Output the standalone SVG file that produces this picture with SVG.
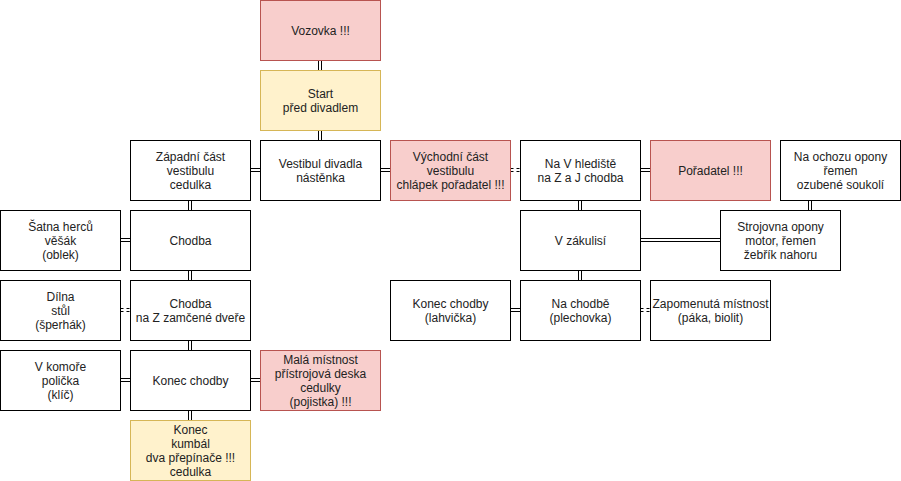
<svg xmlns="http://www.w3.org/2000/svg" width="901" height="481" viewBox="0 0 901 481">
<style>
rect{stroke-width:1}
.w{fill:#ffffff;stroke:#000000}
.r{fill:#f8cecc;stroke:#b85450}
.y{fill:#fff2cc;stroke:#d6b656}
text{font-family:"Liberation Sans",Helvetica,Arial,sans-serif;font-size:12px;fill:#222222;text-anchor:middle}
.c line{stroke:#000000;stroke-width:1;fill:none}
.c .d{stroke-dasharray:3 3}
</style>
<rect x="0" y="0" width="901" height="481" fill="#ffffff"/>
<g transform="translate(0.5,0.5)">
<g id="connectors" class="c">
<line x1="318" y1="60" x2="318" y2="70"/><line x1="321" y1="60" x2="321" y2="70"/>
<line x1="318" y1="130" x2="318" y2="140"/><line x1="321" y1="130" x2="321" y2="140"/>
<line x1="250" y1="168" x2="260" y2="168"/><line x1="250" y1="171" x2="260" y2="171"/>
<line x1="380" y1="168" x2="390" y2="168"/><line x1="380" y1="171" x2="390" y2="171"/>
<line class="d" x1="510" y1="168" x2="520" y2="168"/><line class="d" x1="510" y1="171" x2="520" y2="171"/>
<line x1="640" y1="168" x2="650" y2="168"/><line x1="640" y1="171" x2="650" y2="171"/>
<line x1="578" y1="200" x2="578" y2="210"/><line x1="581" y1="200" x2="581" y2="210"/>
<line x1="640" y1="238" x2="720" y2="238"/><line x1="640" y1="241" x2="720" y2="241"/>
<line x1="808" y1="200" x2="808" y2="210"/><line x1="811" y1="200" x2="811" y2="210"/>
<line x1="578" y1="270" x2="578" y2="280"/><line x1="581" y1="270" x2="581" y2="280"/>
<line x1="510" y1="308" x2="520" y2="308"/><line x1="510" y1="311" x2="520" y2="311"/>
<line class="d" x1="640" y1="308" x2="650" y2="308"/><line class="d" x1="640" y1="311" x2="650" y2="311"/>
<line x1="188" y1="200" x2="188" y2="210"/><line x1="191" y1="200" x2="191" y2="210"/>
<line x1="120" y1="238" x2="130" y2="238"/><line x1="120" y1="241" x2="130" y2="241"/>
<line x1="188" y1="270" x2="188" y2="280"/><line x1="191" y1="270" x2="191" y2="280"/>
<line class="d" x1="120" y1="308" x2="130" y2="308"/><line class="d" x1="120" y1="311" x2="130" y2="311"/>
<line x1="188" y1="340" x2="188" y2="350"/><line x1="191" y1="340" x2="191" y2="350"/>
<line x1="120" y1="378" x2="130" y2="378"/><line x1="120" y1="381" x2="130" y2="381"/>
<line x1="250" y1="378" x2="260" y2="378"/><line x1="250" y1="381" x2="260" y2="381"/>
<line x1="188" y1="410" x2="188" y2="420"/><line x1="191" y1="410" x2="191" y2="420"/>
</g>
<g id="vozovka"><rect class="r" x="260" y="0" width="120" height="60"/><text x="320" y="34">Vozovka !!!</text></g>
<g id="start"><rect class="y" x="260" y="70" width="120" height="60"/><text x="320" y="97">Start</text><text x="320" y="111">před divadlem</text></g>
<g id="zapadni"><rect class="w" x="130" y="140" width="120" height="60"/><text x="190" y="160">Západní část</text><text x="190" y="174">vestibulu</text><text x="190" y="188">cedulka</text></g>
<g id="vestibul"><rect class="w" x="260" y="140" width="120" height="60"/><text x="320" y="167">Vestibul divadla</text><text x="320" y="181">nástěnka</text></g>
<g id="vychodni"><rect class="r" x="390" y="140" width="120" height="60"/><text x="450" y="160">Východní část</text><text x="450" y="174">vestibulu</text><text x="450" y="188">chlápek pořadatel !!!</text></g>
<g id="hlediste"><rect class="w" x="520" y="140" width="120" height="60"/><text x="580" y="167">Na V hlediště</text><text x="580" y="181">na Z a J chodba</text></g>
<g id="poradatel"><rect class="r" x="650" y="140" width="120" height="60"/><text x="710" y="174">Pořadatel !!!</text></g>
<g id="ochoz"><rect class="w" x="780" y="140" width="120" height="60"/><text x="840" y="160">Na ochozu opony</text><text x="840" y="174">řemen</text><text x="840" y="188">ozubené soukolí</text></g>
<g id="satna"><rect class="w" x="0" y="210" width="120" height="60"/><text x="60" y="230">Šatna herců</text><text x="60" y="244">věšák</text><text x="60" y="258">(oblek)</text></g>
<g id="chodba"><rect class="w" x="130" y="210" width="120" height="60"/><text x="190" y="244">Chodba</text></g>
<g id="zakulisi"><rect class="w" x="520" y="210" width="120" height="60"/><text x="580" y="244">V zákulisí</text></g>
<g id="strojovna"><rect class="w" x="720" y="210" width="120" height="60"/><text x="780" y="230">Strojovna opony</text><text x="780" y="244">motor, řemen</text><text x="780" y="258">žebřík nahoru</text></g>
<g id="dilna"><rect class="w" x="0" y="280" width="120" height="60"/><text x="60" y="300">Dílna</text><text x="60" y="314">stůl</text><text x="60" y="328">(šperhák)</text></g>
<g id="chodbaz"><rect class="w" x="130" y="280" width="120" height="60"/><text x="190" y="307">Chodba</text><text x="190" y="321">na Z zamčené dveře</text></g>
<g id="konecl"><rect class="w" x="390" y="280" width="120" height="60"/><text x="450" y="307">Konec chodby</text><text x="450" y="321">(lahvička)</text></g>
<g id="nachodbe"><rect class="w" x="520" y="280" width="120" height="60"/><text x="580" y="307">Na chodbě</text><text x="580" y="321">(plechovka)</text></g>
<g id="zapomenuta"><rect class="w" x="650" y="280" width="120" height="60"/><text x="710" y="307">Zapomenutá místnost</text><text x="710" y="321">(páka, biolit)</text></g>
<g id="komora"><rect class="w" x="0" y="350" width="120" height="60"/><text x="60" y="370">V komoře</text><text x="60" y="384">polička</text><text x="60" y="398">(klíč)</text></g>
<g id="konec"><rect class="w" x="130" y="350" width="120" height="60"/><text x="190" y="384">Konec chodby</text></g>
<g id="mala"><rect class="r" x="260" y="350" width="120" height="60"/><text x="320" y="363">Malá místnost</text><text x="320" y="377">přístrojová deska</text><text x="320" y="391">cedulky</text><text x="320" y="405">(pojistka) !!!</text></g>
<g id="kumbal"><rect class="y" x="130" y="420" width="120" height="60"/><text x="190" y="433">Konec</text><text x="190" y="447">kumbál</text><text x="190" y="461">dva přepínače !!!</text><text x="190" y="475">cedulka</text></g>
</g>
</svg>
